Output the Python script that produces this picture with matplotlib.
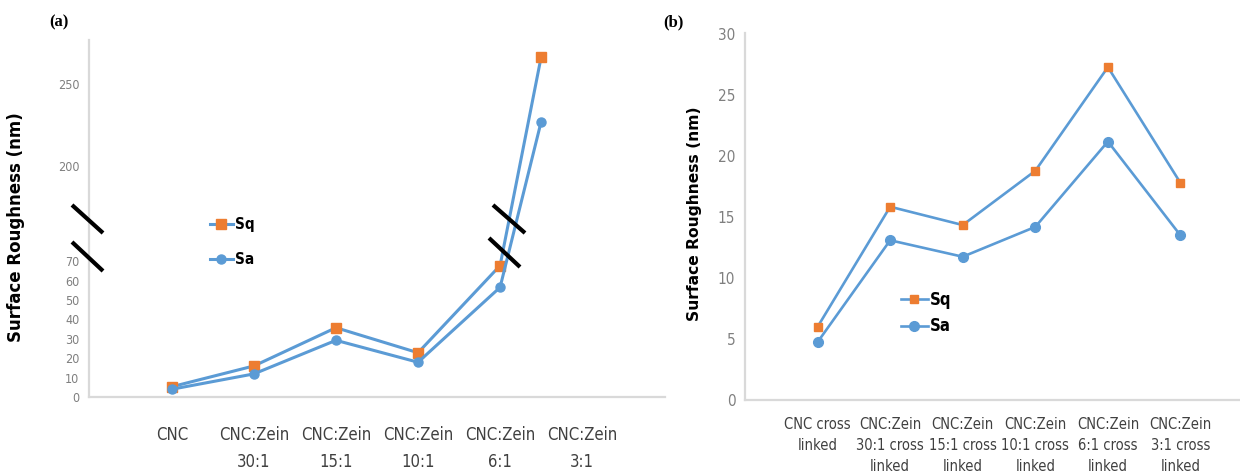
import numpy as np
import matplotlib
matplotlib.use("Agg")
import matplotlib.pyplot as plt
from matplotlib.lines import Line2D

# ---- data ----
labels_a = ["CNC", "CNC:Zein\n30:1", "CNC:Zein\n15:1", "CNC:Zein\n10:1",
            "CNC:Zein\n6:1", "CNC:Zein\n3:1"]
x_a = [0, 1, 2, 3, 4, 4.5]          # the 3:1 point sits between the last two labels
sq_a = [5.3, 16.0, 35.7, 22.8, 67.7, 266.5]
sa_a = [4.0, 11.9, 29.2, 17.9, 56.5, 226.9]
yticks_a = [0, 10, 20, 30, 40, 50, 60, 70, 200, 250]

labels_b = ["CNC cross\nlinked", "CNC:Zein\n30:1 cross\nlinked", "CNC:Zein\n15:1 cross\nlinked",
            "CNC:Zein\n10:1 cross\nlinked", "CNC:Zein\n6:1 cross\nlinked", "CNC:Zein\n3:1 cross\nlinked"]
sq_b = [6.0, 15.85, 14.35, 18.8, 27.3, 17.8]
sa_b = [4.75, 13.1, 11.75, 14.2, 21.2, 13.5]
yticks_b = [0, 5, 10, 15, 20, 25, 30]

BLUE = "#5B9BD5"
ORANGE = "#ED7D31"
AXC = "#D9D9D9"
FAM = "DejaVu Sans"
STR = "condensed"

W, H = 1240, 474
fig = plt.figure(figsize=(W / 100, H / 100), dpi=100)


def px(x0, y0, x1, y1):
    # pixel box -> figure fraction rect
    return [x0 / W, 1 - y1 / H, (x1 - x0) / W, (y1 - y0) / H]


# broken y scale for panel (a): 0-70 stretched, 70-142 squeezed out
bv = [0, 70, 142, 400]
bh = [0, 135.8, 136.3, 136.3 + 1.633 * 258]


def fwd(v):
    return np.interp(v, bv, bh)


def inv(h):
    return np.interp(h, bh, bv)


def style(ax, tick_fs):
    for s in ["top", "right"]:
        ax.spines[s].set_visible(False)
    for s in ["left", "bottom"]:
        ax.spines[s].set_color(AXC)
        ax.spines[s].set_linewidth(1.6)
    ax.tick_params(length=0)
    ax.tick_params(axis="y", pad=7, labelcolor="#7F7F7F", labelsize=tick_fs)
    for t in ax.get_yticklabels():
        t.set_family(FAM)
        t.set_fontstretch(STR)


# ---- panel (a) ----
ax1 = fig.add_axes(px(89, 40, 665, 397))
ax1.set_yscale("function", functions=(fwd, inv))
ax1.plot(x_a, sq_a, color=BLUE, lw=2.2, marker="s", ms=7, mfc=ORANGE, mec=ORANGE, label="Sq")
ax1.plot(x_a, sa_a, color=BLUE, lw=2.2, marker="o", ms=6.5, mfc=BLUE, mec=BLUE, label="Sa")
ax1.set_ylim(0, 277)
ax1.set_xlim(-1.01, 6.01)
ax1.set_yticks(yticks_a)
ax1.set_xticks(range(len(labels_a)))
ax1.set_xticklabels(labels_a, family=FAM, fontstretch=STR, fontsize=12, color="#404040",
                    linespacing=1.6)
ax1.tick_params(axis="x", pad=21)
style(ax1, 9)
ax1.set_ylabel("Surface Roughness (nm)", fontsize=12, fontweight="bold", color="black")
ax1.yaxis.set_label_coords(-0.111, 0.475)
ax1.legend(loc="upper left", bbox_to_anchor=(0.21, 0.504), frameon=False, borderpad=0,
           borderaxespad=0, handlelength=1.5, handletextpad=0.15, labelspacing=1.3,
           prop={"family": FAM, "stretch": STR, "weight": "bold", "size": 11})

# ---- panel (b) ----
ax2 = fig.add_axes(px(745, 33, 1240, 400))
x_b = np.arange(len(labels_b))
ax2.plot(x_b, sq_b, color=BLUE, lw=1.9, marker="s", ms=6, mfc=ORANGE, mec=ORANGE, label="Sq")
ax2.plot(x_b, sa_b, color=BLUE, lw=1.9, marker="o", ms=7, mfc=BLUE, mec=BLUE, label="Sa")
ax2.set_ylim(0, 30.1)
ax2.set_xlim(-1.0, 5.82)
ax2.set_yticks(yticks_b)
ax2.set_xticks(x_b)
ax2.set_xticklabels(labels_b, family=FAM, fontstretch=STR, fontsize=10.5, color="#404040",
                    linespacing=1.5)
ax2.tick_params(axis="x", pad=12)
style(ax2, 11)
ax2.set_ylabel("Surface Roughness (nm)", fontsize=11.2, fontweight="bold", color="black")
ax2.yaxis.set_label_coords(-0.087, 0.507)
ax2.legend(loc="upper left", bbox_to_anchor=(0.315, 0.297), frameon=False, borderpad=0,
           borderaxespad=0, handlelength=1.6, handletextpad=0.15, labelspacing=0.5,
           prop={"family": FAM, "stretch": STR, "weight": "bold", "size": 12})

# panel letters
fig.text(59 / W, 1 - 22 / H, "(a)", family="Liberation Serif", fontweight="bold", fontsize=12,
         ha="center", va="center")
fig.text(673 / W, 1 - 22 / H, "(b)", family="Liberation Serif", fontweight="bold", fontsize=12,
         ha="center", va="center")

# axis-break marks
breaks = [(72, 205, 103, 233), (72, 242, 103, 271), (493, 205, 525, 233), (489, 238, 520, 267)]
for x0, y0, x1, y1 in breaks:
    fig.add_artist(Line2D([x0 / W, x1 / W], [1 - y0 / H, 1 - y1 / H], color="black",
                          lw=3, transform=fig.transFigure, solid_capstyle="butt"))

fig.savefig("out.png", dpi=100)
